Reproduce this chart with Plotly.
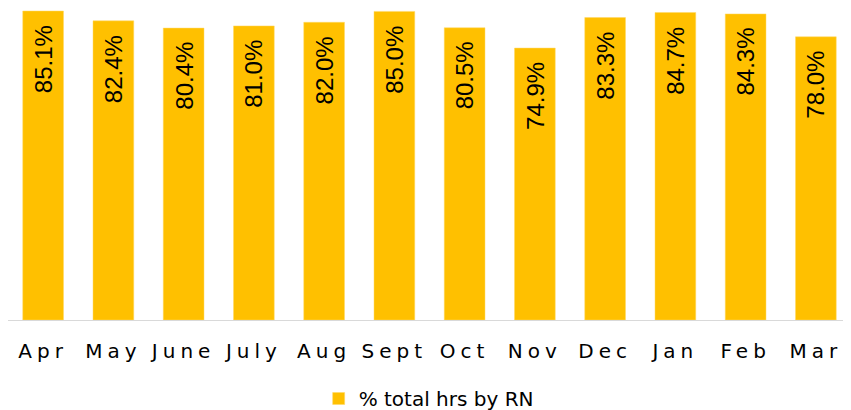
import plotly.graph_objects as go

months = ["Apr", "May", "June", "July", "Aug", "Sept", "Oct", "Nov", "Dec", "Jan", "Feb", "Mar"]
pct_rn = [85.1, 82.4, 80.4, 81.0, 82.0, 85.0, 80.5, 74.9, 83.3, 84.7, 84.3, 78.0]
labels = [f"{v:.1f}%" for v in pct_rn]
series_name = "% total hrs by RN"

fig = go.Figure()
fig.add_trace(go.Bar(
    x=months, y=pct_rn, name=series_name,
    marker=dict(color="#FFC000", line=dict(color="#FFD966", width=0.5)),
    showlegend=True,
))

for m, v, t in zip(months, pct_rn, labels):
    fig.add_annotation(
        x=m, y=v, text=t, showarrow=False, textangle=-90,
        xanchor="center", yanchor="top", yshift=-12,
        font=dict(family="Liberation Sans, Arial, sans-serif", size=24, color="#000000"),
    )

fig.update_layout(
    width=843, height=402,
    margin=dict(l=0, r=0, t=0, b=90),
    plot_bgcolor="white", paper_bgcolor="white",
    bargap=0.42,
    showlegend=True,
    legend=dict(orientation="h", x=0.499, xanchor="center", yref="container", y=0.0286, yanchor="middle",
                font=dict(family="DejaVu Sans, sans-serif", size=20, color="#000000")),
    xaxis=dict(showline=True, linecolor="#D9D9D9", linewidth=1, ticks="", showgrid=False,
               tickfont=dict(family="DejaVu Sans, sans-serif", size=20, color="#000000"),
               ticklabelstandoff=13),
    yaxis=dict(range=[0, 85.93], visible=False, showgrid=False),
)

css = ("var s=document.createElement('style');"
       "s.textContent='.xtick text{letter-spacing:5px;}';"
       "document.head.appendChild(s);")
fig.write_html("out.html", post_script=css)
